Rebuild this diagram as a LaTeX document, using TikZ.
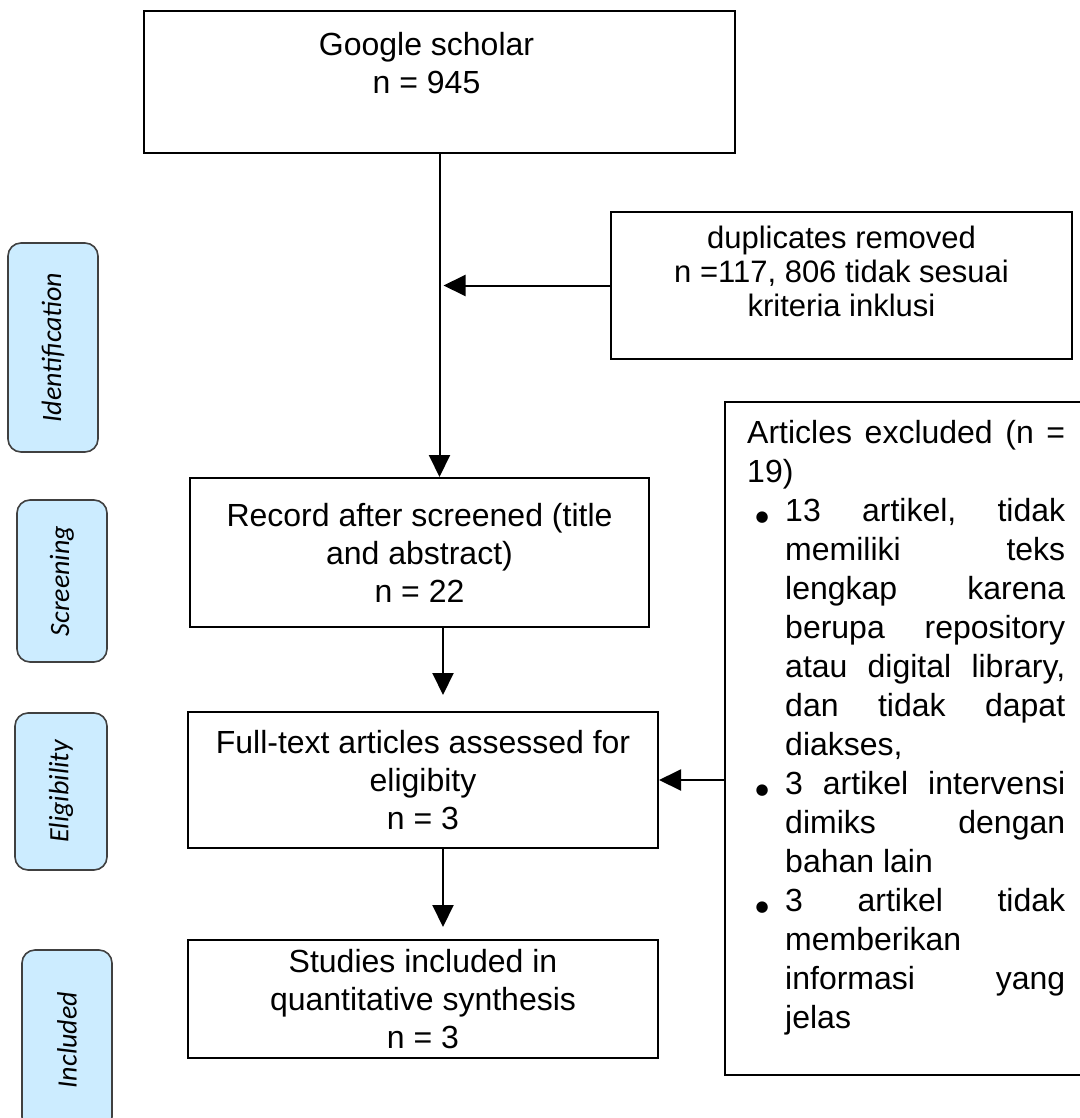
\documentclass[tikz,border=0pt]{standalone}
\usepackage{fontspec}
\setmainfont{Liberation Sans}
\newfontfamily\phasefont{Carlito}
\newfontfamily\symfont{DejaVu Sans}
\usetikzlibrary{arrows.meta,calc}
\definecolor{phaseblue}{RGB}{204,236,255}
\definecolor{phaseedge}{RGB}{64,64,64}
\newcommand\fullline[1]{\hbox to 318pt{#1}}
\newcommand\bigbul{\makebox[0pt]{\symfont\fontsize{15}{15}\selectfont ●}}
\newcommand\bulline[1]{\hbox to 318pt{\hbox to 38pt{\hskip 15pt\bigbul\hfil}\hbox to 280pt{#1}}}
\newcommand\contline[1]{\hbox to 318pt{\hskip 38pt\hbox to 280pt{#1}}}
\tikzset{
  box/.style={draw=black, line width=2pt, rectangle, inner sep=0pt, align=center,
    font=\fontsize{32}{38}\selectfont},
  arr/.style={line width=2pt, -{Triangle[length=22pt,width=21pt]}},
  phase/.style={draw=phaseedge, line width=1.6pt, fill=phaseblue, rounded corners=13pt,
    rotate=90, inner sep=0pt, font=\phasefont\itshape\fontsize{28}{30}\selectfont},
}
\begin{document}
\begin{tikzpicture}[x=1pt,y=-1pt]
\useasboundingbox (0,0) rectangle (1079,1118);
\fill[white] (0,0) rectangle (1079,1118);

% phase labels
\node[phase, minimum width=209pt, minimum height=90pt] (ident) at (53,347.5) {Identification\hspace{11pt}};
\node[phase, minimum width=162pt, minimum height=90pt] (screen) at (62,581) {Screening\hspace{30pt}};
\node[phase, minimum width=157pt, minimum height=92pt] (elig) at (61,791.5) {Eligibility\hspace{27pt}};
\node[phase, minimum width=180pt, minimum height=90pt] (incl) at (67,1040) {Included\hspace{22pt}};

% main boxes
\node[box, minimum width=591pt, minimum height=142pt] (G) at (439.5,82)
  {\raisebox{15.5pt}[\height][\depth]{\begin{tabular}{@{}c@{}}Google scholar\\ n = 945\end{tabular}}\hspace{26pt}};
\node[box, minimum width=461pt, minimum height=147pt, font=\fontsize{31}{34}\selectfont] (D) at (841.5,285.5)
  {\raisebox{10pt}[\height][\depth]{\begin{tabular}{@{}c@{}}duplicates removed\\ n =117, 806 tidak sesuai\\ kriteria inklusi\end{tabular}}};
\node[box, minimum width=459pt, minimum height=149pt] (R) at (419.5,552.5)
  {Record after screened (title\\ and abstract)\\ n = 22};
\node[box, minimum width=470pt, minimum height=136pt] (F) at (423,780)
  {Full-text articles assessed for\\ eligibity\\ n = 3};
\node[box, minimum width=470pt, minimum height=118pt] (S) at (423,999)
  {Studies included in\\ quantitative synthesis\\ n = 3};
\node[box, minimum width=357pt, minimum height=673pt] (A) at (903.5,738.5) {};
\node[anchor=base west, inner sep=0pt] (Atext) at (747,443)
  {\parbox[t]{318pt}{\fontsize{32}{39}\selectfont
   \fullline{Articles\hfill excluded\hfill (n\hfill =}
   \hbox{19)}
   \bulline{13\hfill artikel,\hfill tidak}
   \contline{memiliki\hfill teks}
   \contline{lengkap\hfill karena}
   \contline{berupa\hfill repository}
   \contline{atau\hfill digital\hfill library,}
   \contline{dan\hfill tidak\hfill dapat}
   \contline{diakses,\hfil}
   \bulline{3\hfill artikel\hfill intervensi}
   \contline{dimiks\hfill dengan}
   \contline{bahan lain\hfil}
   \bulline{3\hfill artikel\hfill tidak}
   \contline{memberikan\hfil}
   \contline{informasi\hfill yang}
   \contline{jelas\hfil}}};

% connectors
\coordinate (c2) at (443,0);
\draw[arr] (G.south) -- (G.south |- R.north);
\draw[arr, shorten >=4pt] (D.west) -- (D.west -| G.south);
\draw[arr, shorten >=16pt] (R.south -| c2) -- (F.north -| c2);
\draw[arr] (F.east -| A.west) -- (F.east);
\draw[arr, shorten >=12pt] (F.south -| c2) -- (S.north -| c2);
\end{tikzpicture}
\end{document}
